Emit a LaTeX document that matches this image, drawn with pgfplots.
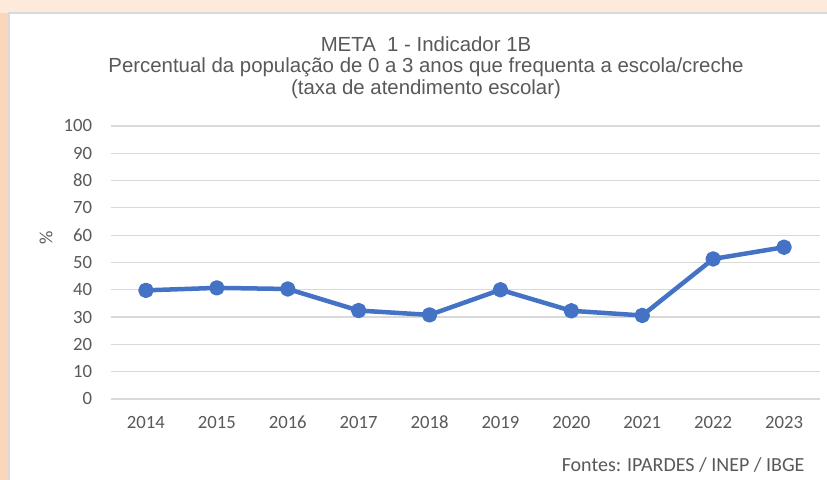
\documentclass[border=0pt]{standalone}
\usepackage{pgfplots}
\pgfplotsset{compat=1.18}
\usepackage{fontspec}
\setmainfont{Liberation Sans}
\newfontfamily\carlito{Carlito}
\definecolor{peach}{RGB}{253,234,218}
\definecolor{peachdark}{RGB}{251,215,185}
\definecolor{frame}{RGB}{217,217,217}
\definecolor{txt}{RGB}{89,89,89}
\definecolor{lineblue}{RGB}{68,114,196}
\definecolor{gridc}{RGB}{217,217,217}
\pgfplotstableread{
x y
0 39.8
1 40.7
2 40.3
3 32.4
4 30.8
5 40.0
6 32.3
7 30.6
8 51.3
9 55.6
}\datatable
\begin{document}
\begin{tikzpicture}[x=1bp,y=1bp]
\useasboundingbox (0,0) rectangle (827,480);
\fill[peach] (0,0) rectangle (827,480);
\fill[peachdark] (0,0) rectangle (9,467);
\filldraw[fill=white,draw=frame,line width=1.2bp] (9,-2) rectangle (830,467);
\node[text=txt,font=\fontsize{20.4bp}{22bp}\selectfont] at (426,436) {META\ \ 1 - Indicador 1B};
\node[text=txt,font=\fontsize{20.4bp}{22bp}\selectfont] at (426,413) {Percentual da população de 0 a 3 anos que frequenta a escola/creche};
\node[text=txt,font=\fontsize{20.4bp}{22bp}\selectfont] at (426,391) {(taxa de atendimento escolar)};
\node[text=txt,font=\carlito\fontsize{20bp}{22bp}\selectfont,anchor=east] at (808,15) {Fontes: IPARDES / INEP / IBGE};
\begin{axis}[
  at={(110.5bp,81bp)}, anchor=south west,
  scale only axis, width=709bp, height=273bp,
  xmin=-0.5, xmax=9.5, ymin=0, ymax=100,
  axis line style={draw=none},
  ytick={0,10,...,100},
  xtick={0,...,9},
  xticklabels={2014,2015,2016,2017,2018,2019,2020,2021,2022,2023},
  ymajorgrids=true,
  grid style={gridc,line width=1.2bp},
  major tick length=0pt,
  /pgf/number format/assume math mode=true,
  ticklabel style={text=txt,font=\carlito\fontsize{18.7bp}{20bp}\selectfont},
  yticklabel style={anchor=east,xshift=-15bp},
  xticklabel style={anchor=base,yshift=-30bp},
  ylabel={\%},
  ylabel style={at={(axis description cs:-0.091,0.59)},anchor=center,text=txt,font=\carlito\fontsize{18.7bp}{20bp}\selectfont},
  clip=false,
]
\addplot[color=lineblue,line width=4.5bp,line join=round,mark=*,mark size=5.5bp,mark options={fill=lineblue,draw=none}] table[x=x,y=y] {\datatable};
\end{axis}
\end{tikzpicture}
\end{document}
